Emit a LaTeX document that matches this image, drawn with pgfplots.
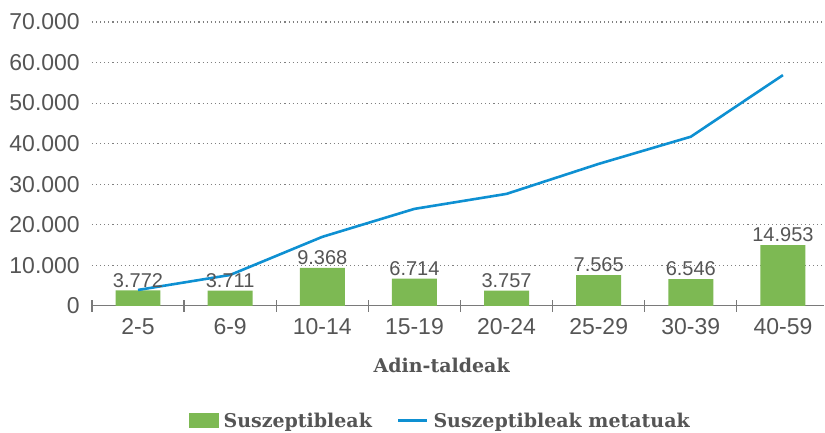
\documentclass[border=0pt]{standalone}
\usepackage{fontspec}
\setmainfont{Liberation Sans}
\newfontfamily\slab{DejaVu Serif}
\usepackage{pgfplots}
\pgfplotsset{compat=1.18}
\definecolor{bargreen}{HTML}{7DB953}
\definecolor{lineblue}{HTML}{0E90D2}
\definecolor{txt}{HTML}{555555}
\definecolor{axgray}{HTML}{7A7A7A}
\begin{document}
\begin{tikzpicture}
\begin{axis}[
  name=ax, at={(0,0)}, anchor=south west,
  scale only axis, width=733pt, height=284pt,
  xmin=-0.5, xmax=7.45, ymin=0, ymax=70000,
  axis x line=bottom, axis y line=left,
  x axis line style={-, draw=axgray, line width=1.2pt},
  y axis line style={draw=none},
  xtick={0,...,7},
  xticklabels={2-5,6-9,10-14,15-19,20-24,25-29,30-39,40-59},
  minor xtick={-0.5,0.5,...,6.5},
  major tick length=0pt,
  minor tick length=12pt,
  tick align=center,
  minor x tick style={draw=axgray, line width=1.2pt},
  ytick={0,10000,...,70000},
  scaled y ticks=false,
  ymajorgrids,
  grid style={draw=gray, line width=1.1pt, dash pattern=on 1.1pt off 3pt},
  /pgf/number format/.cd, 1000 sep={.}, assume math mode=true,
  /pgfplots/.cd,
  yticklabel style={font=\fontsize{23}{23}\selectfont, text=txt, inner sep=0pt, xshift=-12pt},
  xticklabel style={font=\fontsize{23}{23}\selectfont, text=txt, inner sep=0pt, yshift=-12pt},
  xlabel={Adin-taldeak},
  xlabel style={at={(0.4775,-0.211)}, anchor=center, font=\slab\bfseries\fontsize{19}{19}\selectfont, text=txt},
  legend columns=2,
  legend style={at={(0.4775,-0.405)}, anchor=center, draw=none, fill=none,
    font=\slab\bfseries\fontsize{19}{19}\selectfont, text=txt,
    nodes={inner xsep=5pt},
    /tikz/every even column/.append style={column sep=20pt}},
]
\addplot[ybar, bar width=45pt, bar shift=0pt, fill=bargreen, draw=none,
  nodes near coords,
  nodes near coords style={font=\fontsize{20}{20}\selectfont, text=txt, inner sep=3pt,
     /pgf/number format/1000 sep={.}, /pgf/number format/assume math mode=true},
  legend image code/.code={\fill[bargreen] (0pt,-7.5pt) rectangle (30pt,7.5pt);}]
  coordinates {(0,3772) (1,3711) (2,9368) (3,6714) (4,3757) (5,7565) (6,6546) (7,14953)};
\addlegendentry{Suszeptibleak}
\addplot[draw=lineblue, line width=2.6pt, mark=none,
  legend image code/.code={\draw[lineblue, line width=2.6pt] (0pt,0pt) -- (29pt,0pt);}]
  coordinates {(0,3900) (1,7600) (2,17000) (3,23900) (4,27600) (5,35000) (6,41700) (7,56900)};
\addlegendentry{Suszeptibleak metatuak}
\end{axis}
\path (-92pt,-127pt) rectangle (733pt,306pt);
\end{tikzpicture}
\end{document}
